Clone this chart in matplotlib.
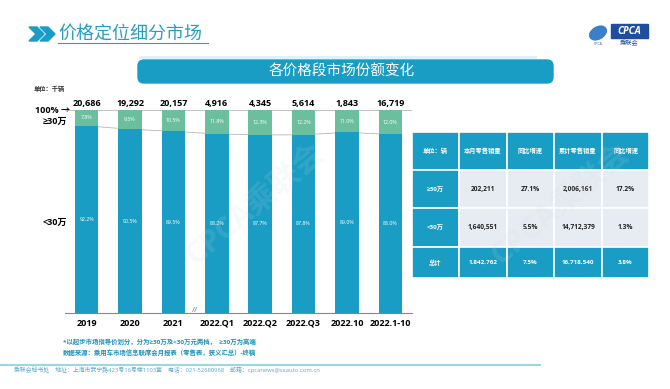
import matplotlib.pyplot as plt
from matplotlib.patches import FancyBboxPatch, Rectangle, Polygon, Ellipse

plt.rcParams['font.family'] = ['Open Sans', 'Noto Sans CJK SC', 'DejaVu Sans']

W, H = 670, 389
DARK = '#1a9dc4'
LIGHT = '#6bbf9e'
CELL = '#e6ecf2'

# chart data
periods = ["2019", "2020", "2021", "2022.Q1", "2022.Q2", "2022.Q3", "2022.10", "2022.1-10"]
totals = [20686, 19292, 20157, 4916, 4345, 5614, 1843, 16719]
share_high = [7.8, 9.5, 10.5, 11.8, 12.3, 12.2, 11.0, 12.0]
share_low = [92.2, 90.5, 89.5, 88.2, 87.7, 87.8, 89.0, 88.0]

# table data
table_header = ["单位：辆", "本月零售销量", "同比增速", "累计零售销量", "同比增速"]
table_rows = ["≥30万", "<30万", "总计"]
month_sales = ["202,211", "1,640,551", "1,842,762"]
month_yoy = ["27.1%", "5.5%", "7.5%"]
ytd_sales = ["2,006,161", "14,712,379", "16,718,540"]
ytd_yoy = ["17.2%", "1.3%", "3.8%"]

fig = plt.figure(figsize=(W / 100, H / 100), dpi=100)

# background axes in pixel coordinates for decorations
bg = fig.add_axes([0, 0, 1, 1])
bg.set_xlim(0, W)
bg.set_ylim(H, 0)
bg.axis('off')
bg.set_zorder(0)

# header
for dx in [0, 11]:
    bg.add_patch(Polygon([(29 + dx, 27), (37 + dx, 27), (44 + dx, 34), (37 + dx, 41),
                          (29 + dx, 41), (36 + dx, 34)], closed=True, color=DARK))
bg.text(58, 34, "价格定位细分市场", fontsize=13, color='#2a9dc4', va='center', ha='left')
bg.plot([58, 208], [43, 43], color='#2a9dc4', lw=0.8)
bg.plot([140, 535], [57, 57], color='#d8f3fa', lw=2)

# logo
bg.add_patch(Ellipse((598, 33), 18, 12, angle=-30, color='#3a7fc8'))
bg.text(598, 44, "CPCA", fontsize=2.5, color='#1f4e9c', ha='center', va='center')
bg.add_patch(Rectangle((611, 24), 37, 14, color='#1f4e9c'))
bg.text(629.5, 31, "CPCA", fontsize=7, color='white', fontweight='bold', style='italic',
        ha='center', va='center')
bg.text(629.5, 43, "乘联会", fontsize=4.5, color='#1f4e9c', ha='center', va='center')

# title banner
bg.add_patch(FancyBboxPatch((138, 60), 415, 23, boxstyle="round,pad=0,rounding_size=6",
                            color=DARK))
bg.text(342, 72, "各价格段市场份额变化", fontsize=10.5, color='white', ha='center', va='center')

# left labels
bg.text(34, 89, "单位：千辆", fontsize=4.5, fontweight='bold', color='#333333', va='center')
bg.text(70, 110, "100% →", fontsize=6.5, fontweight='bold', ha='right', va='center')
bg.text(67, 121, "≥30万", fontsize=6.5, fontweight='bold', ha='right', va='center')
bg.text(67, 222, "<30万", fontsize=6.5, fontweight='bold', ha='right', va='center')

# bar chart
ax = fig.add_axes([65 / W, 1 - 313 / H, (412 - 65) / W, (313 - 110) / H])
ax.set_zorder(1)
ax.patch.set_alpha(0)
x = list(range(len(periods)))
ax.axhline(100, color='#b8b8b8', lw=0.6, zorder=1)
ax.plot(x, share_low, color='#b8b8b8', lw=0.6, zorder=1)
ax.bar(x, share_low, width=0.54, color=DARK, zorder=2)
ax.bar(x, share_high, bottom=share_low, width=0.54, color=LIGHT, zorder=2)
for i in x:
    ax.annotate(f"{totals[i]:,}", (i, 100), xytext=(0, 1.5), textcoords='offset points',
                ha='center', va='bottom', fontsize=6.5, fontweight='bold')
    ax.text(i, share_low[i] + share_high[i] / 2, f"{share_high[i]:.1f}%", fontsize=3.8,
            color='white', ha='center', va='center', zorder=3)
    ax.text(i, share_low[i] / 2, f"{share_low[i]:.1f}%", fontsize=3.8,
            color='white', ha='center', va='center', zorder=3)
ax.text(2.5, 1, "//", ha='center', va='center', fontsize=6, color='#777777')
ax.set_xlim(-0.5, 7.5)
ax.set_ylim(0, 100)
for s in ['top', 'left', 'right']:
    ax.spines[s].set_visible(False)
ax.spines['bottom'].set_color('#888888')
ax.spines['bottom'].set_linewidth(0.8)
ax.set_yticks([])
ax.set_xticks(x, periods)
ax.tick_params(axis='x', length=0, pad=4, labelsize=6.5)
for t in ax.get_xticklabels():
    t.set_fontweight('bold')

# table
col_edges = [412, 459, 507, 554, 602, 649]
row_edges = [132, 170, 208, 247, 278]
cells = [table_header]
for r in range(3):
    cells.append([table_rows[r], month_sales[r], month_yoy[r], ytd_sales[r], ytd_yoy[r]])
for r in range(4):
    for c in range(5):
        teal = r == 0 or r == 3 or c == 0
        x0, x1 = col_edges[c], col_edges[c + 1]
        y0, y1 = row_edges[r], row_edges[r + 1]
        bg.add_patch(Rectangle((x0, y0), x1 - x0, y1 - y0, facecolor=DARK if teal else CELL,
                               edgecolor='white', lw=1.2))
        bg.text((x0 + x1) / 2, (y0 + y1) / 2, cells[r][c], ha='center', va='center',
                fontsize=4.8 if not teal else 4.5, fontweight='bold',
                color='white' if teal else '#222222')

# footnotes
bg.text(63, 342, "*以起步市场指导价划分，分为≥30万及<30万元两档，  ≥30万为高端", fontsize=4.6,
        color='#1b92bb', va='center', fontweight='bold')
bg.text(63, 353, "数据来源：乘用车市场信息联席会月报表（零售表，狭义汇总）-终稿", fontsize=4.6,
        color='#1b92bb', va='center', fontweight='bold')

# footer
bg.plot([0, 540], [365, 365], color='#9fd6e4', lw=1.5)
bg.text(14, 370, "乘联会秘书处    地址：上海市武宁路423号16号楼1103室    电话：021-52680968    "
        "邮箱：cpcanews@sxauto.com.cn", fontsize=4.2, color='#5fa8c4', va='center')

# faint watermarks
for wx, wy in [(255, 205), (560, 205)]:
    fig.text(wx / W, 1 - wy / H, "CPCA乘联会", fontsize=22, color='#d0d8de', alpha=0.14,
             rotation=40, ha='center', va='center', fontweight='bold', zorder=5)

fig.savefig('out.png', dpi=100)
